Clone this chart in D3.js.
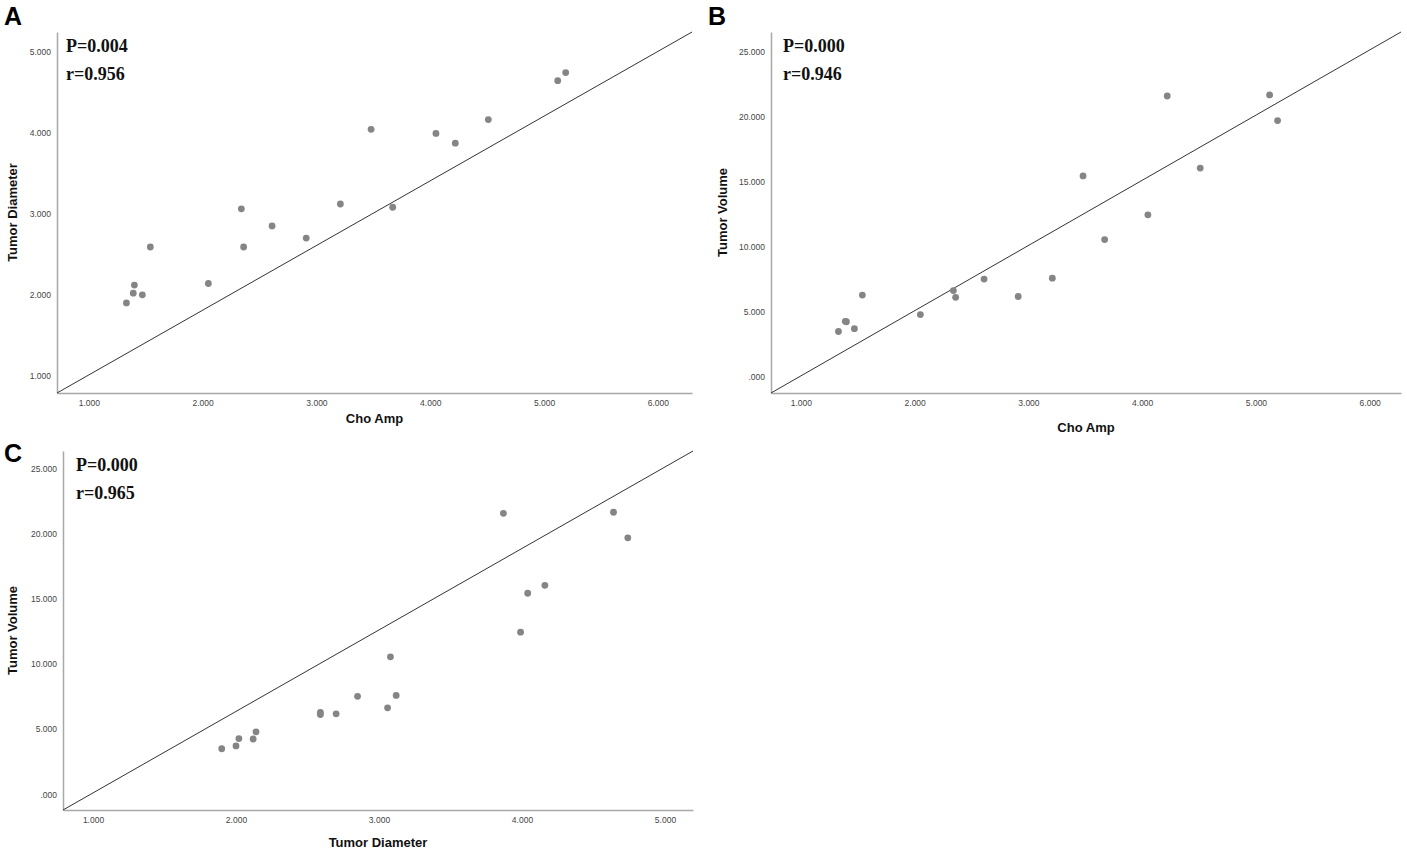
<!DOCTYPE html>
<html>
<head>
<meta charset="utf-8">
<script src="https://cdn.jsdelivr.net/npm/d3@7"></script>
<style>
  body { margin: 0; background: #fff; }
  .tick text { font-family: "Liberation Sans", Arial, sans-serif; font-size: 8.5px; fill: #444; }
  .axis path { stroke: #a8a8a8; stroke-width: 1.5; }
  .title { font-family: "Liberation Sans", Arial, sans-serif; font-weight: bold; font-size: 13px; fill: #111; }
  .stat { font-family: "Liberation Serif", "DejaVu Serif", serif; font-weight: bold; font-size: 18px; fill: #111; }
  .letter { font-family: "Liberation Sans", Arial, sans-serif; font-weight: bold; font-size: 25px; fill: #000; }
</style>
</head>
<body>
<div id="chart"></div>
<script>
// one value per patient
const choAmp        = [1.33, 1.39, 1.40, 1.47, 1.54, 2.05, 2.34, 2.36, 2.61, 2.91, 3.21, 3.48, 3.67, 4.05, 4.22, 4.51, 5.12, 5.19];
const tumorDiameter = [1.90, 2.02, 2.12, 2.00, 2.59, 2.14, 3.06, 2.59, 2.85, 2.70, 3.12, 4.04, 3.08, 3.99, 3.87, 4.16, 4.64, 4.74];
const tumorVolume   = [3.50, 4.28, 4.25, 3.72, 6.30, 4.80, 6.65, 6.13, 7.53, 6.19, 7.60, 15.46, 10.57, 12.47, 21.61, 16.07, 21.69, 19.72];

// axis ticks
const choTicks  = [1, 2, 3, 4, 5, 6];
const diamTicksY = [1, 2, 3, 4, 5];
const diamTicksX = [1, 2, 3, 4, 5];
const volTicks  = [0, 5, 10, 15, 20, 25];

// axis domains
const domainA = { x: [0.72, 6.30], y: [0.79, 5.24] };
const domainB = { x: [0.737, 6.275], y: [-1.23, 26.53] };
const domainC = { x: [0.79, 5.196], y: [-1.21, 26.4] };

// reference lines (data coords)
const lineA = [[0.72, 0.79], [6.30, 5.24]];
const lineB = [[0.737, -1.23], [6.275, 26.53]];
const lineC = [[0.79, -1.21], [5.196, 26.4]];

// stats text
const statsA = ['P=0.004', 'r=0.956'];
const statsB = ['P=0.000', 'r=0.946'];
const statsC = ['P=0.000', 'r=0.965'];

const width = 1407, height = 850;

const svg = d3.select('#chart')
              .append('svg')
              .attr('width', width)
              .attr('height', height);

const fmt = d => d3.format('.3f')(d).replace(/^0\./, '.');

const panels = [
  { letter: 'A', lx: 4, ly: 25, left: 57, right: 692, top: 32, bottom: 393,
    x: choAmp, y: tumorDiameter, dom: domainA, xt: choTicks, yt: diamTicksY, line: lineA,
    stats: statsA, sx: 66, sy: 52, xTitle: 'Cho Amp', xty: 423, yTitle: 'Tumor Diameter', ytx: 17 },
  { letter: 'B', lx: 708, ly: 25, left: 771, right: 1401, top: 32, bottom: 393,
    x: choAmp, y: tumorVolume, dom: domainB, xt: choTicks, yt: volTicks, line: lineB,
    stats: statsB, sx: 783, sy: 52, xTitle: 'Cho Amp', xty: 432, yTitle: 'Tumor Volume', ytx: 727 },
  { letter: 'C', lx: 4, ly: 462, left: 63, right: 693, top: 451, bottom: 810,
    x: tumorDiameter, y: tumorVolume, dom: domainC, xt: diamTicksX, yt: volTicks, line: lineC,
    stats: statsC, sx: 76, sy: 471, xTitle: 'Tumor Diameter', xty: 847, yTitle: 'Tumor Volume', ytx: 17 }
];

panels.forEach(p => {
  const g = svg.append('g');

  const scaleX = d3.scaleLinear().domain(p.dom.x).range([p.left, p.right]);
  const scaleY = d3.scaleLinear().domain(p.dom.y).range([p.bottom, p.top]);

  const xAxis = d3.axisBottom(scaleX).tickValues(p.xt).tickSize(0).tickPadding(7).tickFormat(fmt);
  const yAxis = d3.axisLeft(scaleY).tickValues(p.yt).tickSize(0).tickPadding(6).tickFormat(fmt);

  g.append('g')
   .attr('class', 'axis')
   .attr('transform', 'translate(0,' + p.bottom + ')')
   .call(xAxis);

  g.append('g')
   .attr('class', 'axis')
   .attr('transform', 'translate(' + p.left + ',0)')
   .call(yAxis);

  g.selectAll('.axis text').attr('font-family', null).attr('font-size', null);

  g.append('path')
   .datum(p.line)
   .attr('d', d3.line().x(d => scaleX(d[0])).y(d => scaleY(d[1])))
   .attr('fill', 'none')
   .attr('stroke', '#333')
   .attr('stroke-width', 1);

  const pts = p.x.map((v, i) => ({ x: v, y: p.y[i] }));

  g.selectAll('circle')
   .data(pts)
   .enter()
   .append('circle')
   .attr('cx', d => scaleX(d.x))
   .attr('cy', d => scaleY(d.y))
   .attr('r', 3.4)
   .style('fill', '#858585');

  g.selectAll('.stat')
   .data(p.stats)
   .enter()
   .append('text')
   .attr('class', 'stat')
   .attr('x', p.sx)
   .attr('y', (d, i) => p.sy + i * 28)
   .text(d => d);

  g.append('text')
   .attr('class', 'title')
   .attr('x', (p.left + p.right) / 2)
   .attr('y', p.xty)
   .style('text-anchor', 'middle')
   .text(p.xTitle);

  g.append('text')
   .attr('class', 'title')
   .attr('transform', 'translate(' + p.ytx + ',' + ((p.top + p.bottom) / 2) + ') rotate(-90)')
   .style('text-anchor', 'middle')
   .text(p.yTitle);

  g.append('text')
   .attr('class', 'letter')
   .attr('x', p.lx)
   .attr('y', p.ly)
   .text(p.letter);
});
</script>
</body>
</html>
